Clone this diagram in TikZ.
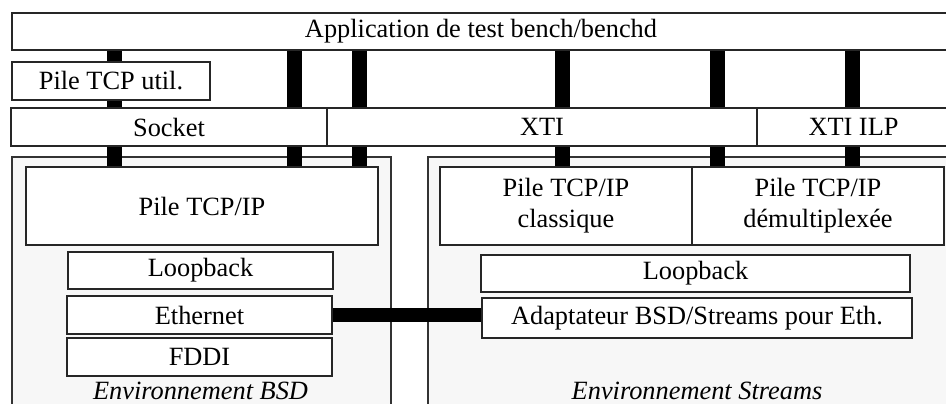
\documentclass[tikz,border=0pt]{standalone}
\usepackage{fontspec}
\setmainfont{Liberation Serif}
\usetikzlibrary{backgrounds}

\begin{document}
\begin{tikzpicture}[x=0.02cm,y=-0.02cm]
        \tikzset{
        pile box/.style={draw=black!85,fill=white,line width=0.8pt,inner sep=0,align=center,
            font=\fontsize{15}{17.6}\selectfont},
        env box/.style={draw=black!80,fill=black!3,line width=0.8pt},
        env label/.style={font=\fontsize{15}{17.6}\selectfont\itshape},
        pile bar/.style={line width=0.3cm},
        eth bar/.style={line width=0.28cm}
        }
        \clip (0,0) rectangle (946,403);
        % couches du haut
        \node[pile box,minimum width=938*0.02cm,minimum height=37*0.02cm] (app) at (481,31.5) {Application de test bench/benchd};
        \node[pile box,minimum width=198*0.02cm,minimum height=38*0.02cm] (util) at (111,81) {Pile TCP util.};
        \node[pile box,minimum width=316*0.02cm,minimum height=38*0.02cm] (socket) at (169,127) {Socket};
        \node[pile box,minimum width=430*0.02cm,minimum height=38*0.02cm] (xti) at (542,127) {XTI};
        \node[pile box,minimum width=193*0.02cm,minimum height=38*0.02cm] (xtiilp) at (853.5,127) {XTI ILP};
        % environnement BSD
        \node[pile box,minimum width=352*0.02cm,minimum height=78*0.02cm] (tcpbsd) at (202,206) {Pile TCP/IP};
        \node[pile box,minimum width=265*0.02cm,minimum height=37*0.02cm] (loopbsd) at (200.5,270.5) {Loopback};
        \node[pile box,minimum width=265*0.02cm,minimum height=38*0.02cm] (eth) at (199.5,315) {Ethernet};
        \node[pile box,minimum width=265*0.02cm,minimum height=38*0.02cm] (fddi) at (199.5,357) {FDDI};
        \node[env label] (envbsd) at (200.5,391) {Environnement BSD};
        % environnement Streams
        \node[pile box,minimum width=252*0.02cm,minimum height=78*0.02cm] (classique) at (566,206) {Pile TCP/IP\\classique};
        \node[pile box,minimum width=252*0.02cm,minimum height=78*0.02cm] (demux) at (818,206) {Pile TCP/IP\\démultiplexée};
        \node[pile box,minimum width=429*0.02cm,minimum height=37*0.02cm] (loopstr) at (695.5,273.5) {Loopback};
        \node[pile box,minimum width=430*0.02cm,minimum height=40*0.02cm] (adapt) at (697,318) {Adaptateur BSD/Streams pour Eth.};
        \node[env label] (envstr) at (697,391) {Environnement Streams};

        \begin{pgfonlayer}{background}
        \path[env box] (12,410) -- (12,157) -- (391,157) -- (391,410);
        \path[env box] (428,410) -- (428,157) -- (950,157) -- (950,410);
        \draw[pile bar] (114.5,0 |- app.south) -- (114.5,0 |- tcpbsd.north);
        \draw[pile bar] (294.5,0 |- app.south) -- (294.5,0 |- tcpbsd.north);
        \draw[pile bar] (359.5,0 |- app.south) -- (359.5,0 |- tcpbsd.north);
        \draw[pile bar] (562.5,0 |- app.south) -- (562.5,0 |- classique.north);
        \draw[pile bar] (717.5,0 |- app.south) -- (717.5,0 |- demux.north);
        \draw[pile bar] (852.5,0 |- app.south) -- (852.5,0 |- demux.north);
        \end{pgfonlayer}
        \draw[eth bar] (eth.east) -- (adapt.west |- eth.east);
\end{tikzpicture}
\end{document}
